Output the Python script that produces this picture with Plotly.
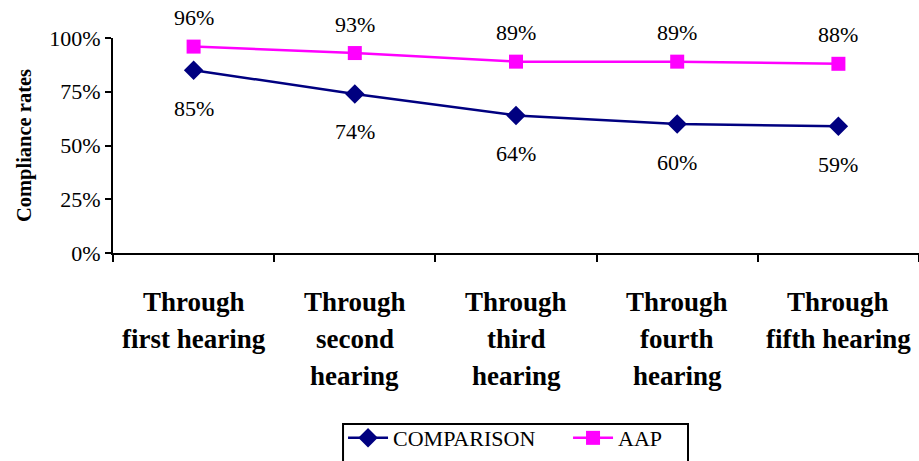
import plotly.graph_objects as go

# Chart data
categories = ["first", "second", "third", "fourth", "fifth"]
category_lines = [
    ["Through", "first hearing"],
    ["Through", "second", "hearing"],
    ["Through", "third", "hearing"],
    ["Through", "fourth", "hearing"],
    ["Through", "fifth hearing"],
]
comparison = [0.85, 0.74, 0.64, 0.60, 0.59]
aap = [0.96, 0.93, 0.89, 0.89, 0.88]
y_ticks = [0, 0.25, 0.5, 0.75, 1.0]

SERIF = "Liberation Serif, Times New Roman, serif"
NAVY = "#000080"
MAGENTA = "#FF00FF"

fig = go.Figure()
fig.add_trace(go.Scatter(
    x=categories, y=comparison, name="COMPARISON", mode="lines+markers",
    line=dict(color=NAVY, width=2.5),
    marker=dict(symbol="diamond", size=15, color=NAVY),
))
fig.add_trace(go.Scatter(
    x=categories, y=aap, name="AAP", mode="lines+markers",
    line=dict(color=MAGENTA, width=2.5),
    marker=dict(symbol="square", size=14, color=MAGENTA),
))

annotations = []
# value labels: AAP above its points, COMPARISON below
for c, v in zip(categories, aap):
    annotations.append(dict(x=c, y=v, xref="x", yref="y", text=f"{round(v*100)}%",
                            showarrow=False, yshift=29,
                            font=dict(family=SERIF, size=22, color="black")))
for c, v in zip(categories, comparison):
    annotations.append(dict(x=c, y=v, xref="x", yref="y", text=f"{round(v*100)}%",
                            showarrow=False, yshift=-38,
                            font=dict(family=SERIF, size=22, color="black")))

# category labels, one annotation per line for wider line spacing
line_pos = [-0.228, -0.4, -0.572]
for c, lines in zip(categories, category_lines):
    for i, txt in enumerate(lines):
        annotations.append(dict(x=c, y=line_pos[i], xref="x", yref="paper", text=f"<b>{txt}</b>",
                                showarrow=False, yanchor="middle",
                                font=dict(family=SERIF, size=27, color="black")))

# legend frame, running off the bottom edge of the page
legend_frame = dict(type="rect", xref="paper", yref="paper",
                    x0=0.2854, x1=0.7134, y0=-0.795, y1=-1.05,
                    line=dict(color="black", width=2), fillcolor="rgba(0,0,0,0)")

fig.update_layout(
    width=919, height=461,
    margin=dict(l=113, r=0, t=38, b=208, autoexpand=False),
    paper_bgcolor="white", plot_bgcolor="white",
    font=dict(family=SERIF, size=22, color="black"),
    annotations=annotations,
    shapes=[legend_frame],
    legend=dict(
        orientation="h", x=0.2854, xanchor="left", y=-0.763, yanchor="top",
        borderwidth=0, bgcolor="rgba(0,0,0,0)",
        font=dict(family=SERIF, size=22, color="black"),
        itemwidth=40, tracegroupgap=0, entrywidth=170,
    ),
    showlegend=True,
)

fig.update_xaxes(
    type="category", range=[-0.5, 4.5], showticklabels=False,
    showline=True, linecolor="black", linewidth=2,
    ticks="outside", tickson="boundaries", ticklen=7, tickwidth=2, tickcolor="black",
    showgrid=False, zeroline=False,
)
fig.update_yaxes(
    range=[0, 1], tickvals=y_ticks, tickformat=".0%",
    showline=True, linecolor="black", linewidth=2,
    ticks="outside", ticklen=6, tickwidth=2, tickcolor="black",
    showgrid=False, zeroline=False,
    tickfont=dict(family=SERIF, size=22, color="black"),
    title=dict(text="<b>Compliance rates</b>", standoff=12,
               font=dict(family=SERIF, size=20.5, color="black")),
)

fig.write_html("out.html")
